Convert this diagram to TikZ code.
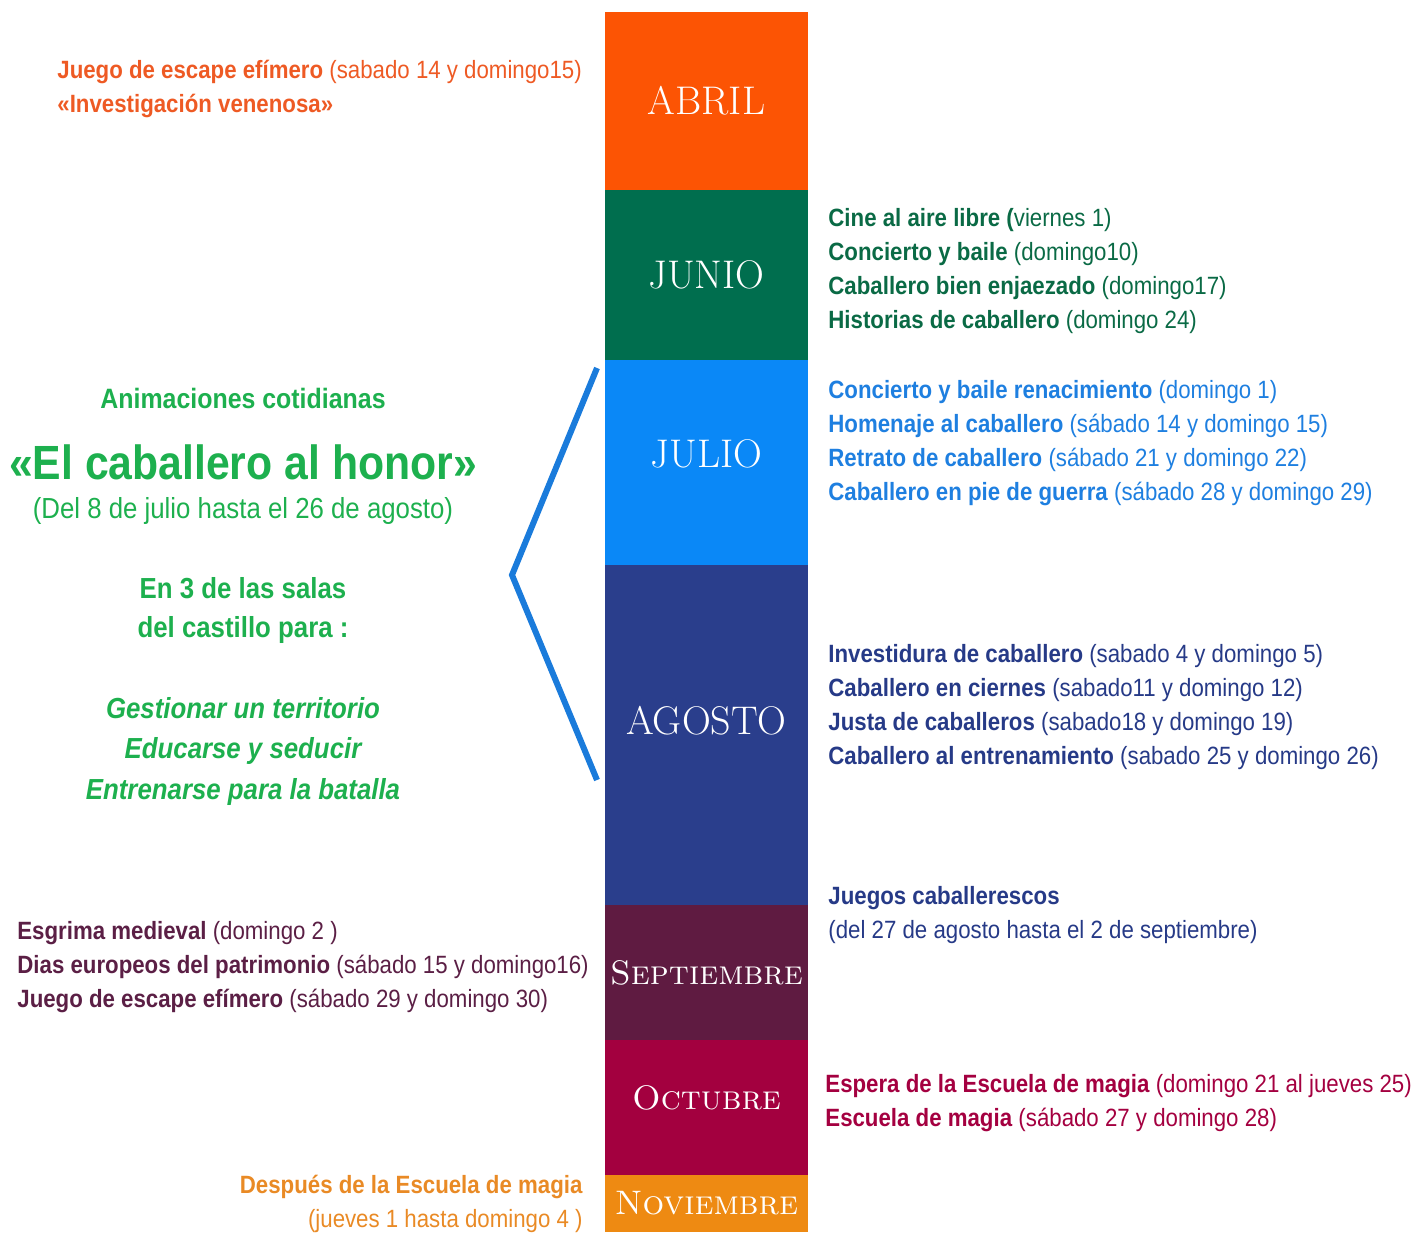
\documentclass[tikz,border=0pt]{standalone}
\usepackage{fontspec}
\setsansfont{Liberation Sans}[FakeStretch=0.89]
\usetikzlibrary{positioning}
\definecolor{abrilC}{HTML}{FC5404}
\definecolor{junioC}{HTML}{006E4E}
\definecolor{julioC}{HTML}{0A88F7}
\definecolor{agostoC}{HTML}{2A3E8C}
\definecolor{septC}{HTML}{5F1B41}
\definecolor{octC}{HTML}{A3003F}
\definecolor{novC}{HTML}{EE8A12}
\definecolor{naranjaTxt}{HTML}{EE5A24}
\definecolor{verdeTxt}{HTML}{1DB04E}
\definecolor{verdeOsc}{HTML}{0A6A45}
\definecolor{azulTxt}{HTML}{1E7FE0}
\definecolor{marinoTxt}{HTML}{263A87}
\definecolor{ciruelaTxt}{HTML}{5B1F45}
\definecolor{carmesiTxt}{HTML}{A40040}
\definecolor{novTxt}{HTML}{E98A25}
\definecolor{llave}{HTML}{1A7BDB}

\begin{document}
\begin{tikzpicture}[
  x=0.5pt, y=-0.5pt,
  month/.style={
    minimum width=101.5pt,
    inner sep=0pt,
    outer sep=0pt,
    text=white,
    font=\rmfamily\fontsize{20}{20}\selectfont,
  },
  scmonth/.style={
    month,
    font=\rmfamily\scshape\fontsize{17}{17}\selectfont,
  },
  evento/.style={
    font=\sffamily\fontsize{12.5}{17}\selectfont,
    align=left,
    anchor=base west,
    inner sep=0pt,
  },
  animacion/.style={
    font=\sffamily\fontsize{14.5}{20}\selectfont,
    text=verdeTxt,
    anchor=base,
    inner sep=0pt,
  },
]
\useasboundingbox (0,0) rectangle (1412,1232);
% barra de meses
\node[month, fill=abrilC, minimum height=89pt, anchor=north] (abril) at (706.5,12) {ABRIL};
\node[month, fill=junioC, minimum height=85pt, below=0pt of abril] (junio) {JUNIO};
\node[month, fill=julioC, minimum height=102.5pt, below=0pt of junio] (julio) {\raisebox{9pt}{JULIO}};
\node[month, fill=agostoC, minimum height=170pt, below=0pt of julio] (agosto) {\raisebox{15pt}{AGOSTO}};
\node[scmonth, fill=septC, minimum height=67.5pt, below=0pt of agosto] (sept) {Septiembre};
\node[scmonth, fill=octC, minimum height=67.5pt, below=0pt of sept] (oct) {\raisebox{10pt}{Octubre}};
\node[scmonth, fill=novC, minimum height=28.5pt, below=0pt of oct] (nov) {Noviembre};

% llave de julio y agosto
\coordinate (llaveA) at (597,368);
\coordinate (llaveM) at (512,575);
\coordinate (llaveB) at (597,780);
\draw[llave, line width=3pt] (llaveA) -- (llaveM) -- (llaveB);

% a la izquierda
\node[evento, text=naranjaTxt] (actAbril) at (57,112)
  {\textbf{Juego de escape efímero} (sabado 14 y domingo15)\\
   \textbf{«Investigación venenosa»}};
\node[animacion, font=\sffamily\bfseries\fontsize{14}{20}\selectfont] (anim) at (243,408) {Animaciones cotidianas};
\node[animacion, font=\sffamily\bfseries\fontsize{24}{30}\selectfont] (titulo) at (243,479) {«El caballero al honor»};
\node[animacion] (fechas) at (243,518) {(Del 8 de julio hasta el 26 de agosto)};
\node[animacion, font=\sffamily\bfseries\fontsize{14.5}{20}\selectfont] (salasA) at (243,598) {En 3 de las salas};
\node[animacion, font=\sffamily\bfseries\fontsize{14.5}{20}\selectfont] (salasB) at (243,637) {del castillo para :};
\node[animacion, font=\sffamily\bfseries\itshape\fontsize{14.5}{20}\selectfont] (gestion) at (243,718) {Gestionar un territorio};
\node[animacion, font=\sffamily\bfseries\itshape\fontsize{14.5}{20}\selectfont] (educ) at (243,758) {Educarse y seducir};
\node[animacion, font=\sffamily\bfseries\itshape\fontsize{14.5}{20}\selectfont] (entren) at (243,799) {Entrenarse para la batalla};
\node[evento, text=ciruelaTxt] (actSept) at (17,1007)
  {\textbf{Esgrima medieval} (domingo 2 )\\
   \textbf{Dias europeos del patrimonio} (sábado 15 y domingo16)\\
   \textbf{Juego de escape efímero} (sábado 29 y domingo 30)};
\node[evento, text=novTxt, align=right, anchor=base east] (actNov) at (583,1227)
  {\textbf{Después de la Escuela de magia}\\
   (jueves 1 hasta domingo 4 )};

% a la derecha
\node[evento, text=verdeOsc] (actJunio) at (828,328)
  {\textbf{Cine al aire libre (}viernes 1)\\
   \textbf{Concierto y baile} (domingo10)\\
   \textbf{Caballero bien enjaezado} (domingo17)\\
   \textbf{Historias de caballero} (domingo 24)};
\node[evento, text=azulTxt] (actJulio) at (828,500)
  {\textbf{Concierto y baile renacimiento} (domingo 1)\\
   \textbf{Homenaje al caballero} (sábado 14 y domingo 15)\\
   \textbf{Retrato de caballero} (sábado 21 y domingo 22)\\
   \textbf{Caballero en pie de guerra} (sábado 28 y domingo 29)};
\node[evento, text=marinoTxt] (actAgosto) at (828,764)
  {\textbf{Investidura de caballero} (sabado 4 y domingo 5)\\
   \textbf{Caballero en ciernes} (sabado11 y domingo 12)\\
   \textbf{Justa de caballeros} (sabado18 y domingo 19)\\
   \textbf{Caballero al entrenamiento} (sabado 25 y domingo 26)};
\node[evento, text=marinoTxt] (juegos) at (828,938)
  {\textbf{Juegos caballerescos}\\
   (del 27 de agosto hasta el 2 de septiembre)};
\node[evento, text=carmesiTxt] (actOct) at (825,1126)
  {\textbf{Espera de la Escuela de magia} (domingo 21 al jueves 25)\\
   \textbf{Escuela de magia} (sábado 27 y domingo 28)};
\end{tikzpicture}
\end{document}
